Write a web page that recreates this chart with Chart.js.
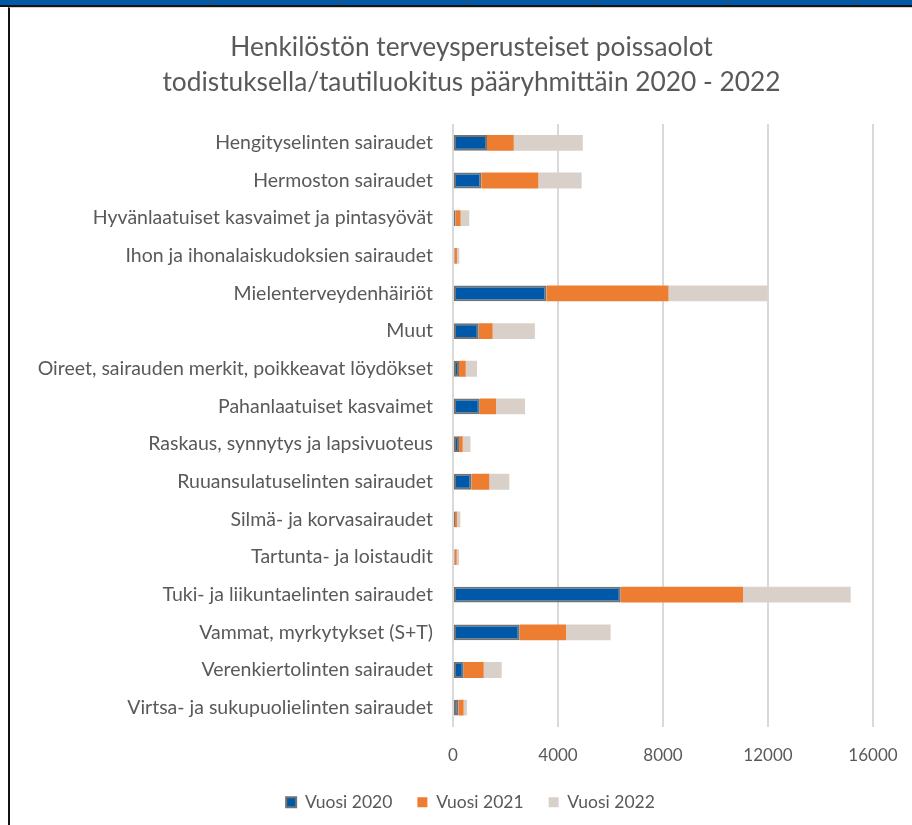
<!DOCTYPE html>
<html lang="fi">
<head>
    <meta charset="UTF-8">
    <title>Henkilöstön terveysperusteiset poissaolot</title>
    <script src="https://cdn.jsdelivr.net/npm/chart.js"></script>
    <style>
        html, body { margin: 0; padding: 0; background: #fff; width: 912px; height: 825px; overflow: hidden; }
        #band { position: absolute; left: 0; top: 0; width: 912px; height: 5px; background: #0059a8; border-bottom: 2px solid #111; }
        #band span { position: absolute; top: 0; width: 1px; height: 5px; background: #3d4a5c; }
        #frame { position: absolute; left: 8px; top: 7px; width: 904px; height: 818px; border-left: 2px solid #111; border-top: 1px solid #d0d0d0; box-sizing: border-box; }
        #myChart { position: absolute; left: 12px; top: 9px; }
    </style>
</head>
<body>
    <div id="band">
        <span style="left:212px"></span><span style="left:340px"></span><span style="left:468px"></span>
        <span style="left:596px"></span><span style="left:726px"></span><span style="left:854px"></span>
    </div>
    <div id="frame"></div>
    <canvas id="myChart" width="900" height="816"></canvas>

    <script>
        const categories = [
            'Hengityselinten sairaudet',
            'Hermoston sairaudet',
            'Hyvänlaatuiset kasvaimet ja pintasyövät',
            'Ihon ja ihonalaiskudoksien sairaudet',
            'Mielenterveydenhäiriöt',
            'Muut',
            'Oireet, sairauden merkit, poikkeavat löydökset',
            'Pahanlaatuiset kasvaimet',
            'Raskaus, synnytys ja lapsivuoteus',
            'Ruuansulatuselinten sairaudet',
            'Silmä- ja korvasairaudet',
            'Tartunta- ja loistaudit',
            'Tuki- ja liikuntaelinten sairaudet',
            'Vammat, myrkytykset (S+T)',
            'Verenkiertolinten sairaudet',
            'Virtsa- ja sukupuolielinten sairaudet'
        ];

        const vuosi2020 = [1295, 1080, 100, 60, 3560, 980, 230, 1020, 230, 710, 75, 60, 6390, 2540, 410, 205];
        const vuosi2021 = [1020, 2170, 190, 90, 4650, 530, 255, 620, 140, 675, 75, 80, 4660, 1765, 760, 200];
        const vuosi2022 = [2630, 1650, 330, 90, 3780, 1610, 430, 1105, 295, 760, 130, 90, 4100, 1700, 685, 125];

        const seriesNames = ['Vuosi 2020', 'Vuosi 2021', 'Vuosi 2022'];
        const xTicks = [0, 4000, 8000, 12000, 16000];

        const textColor = '#595959';
        const fontFamily = 'Lato, "Open Sans", sans-serif';

        // title and legend sit a bit right of the canvas centre in the original
        const shiftBoxes = {
            id: 'shiftBoxes',
            afterLayout(chart) {
                chart.titleBlock.left += 29;
                chart.titleBlock.right += 29;
                chart.legend.left += 28;
                chart.legend.right += 28;
            }
        };

        const ctx = document.getElementById('myChart').getContext('2d');
        new Chart(ctx, {
            type: 'bar',
            data: {
                labels: categories,
                datasets: [
                    {
                        label: seriesNames[0],
                        data: vuosi2020,
                        backgroundColor: '#0059a8',
                        borderColor: '#737373',
                        borderWidth: 2,
                        borderSkipped: false
                    },
                    {
                        label: seriesNames[1],
                        data: vuosi2021,
                        backgroundColor: '#ed7d31',
                        borderWidth: 0
                    },
                    {
                        label: seriesNames[2],
                        data: vuosi2022,
                        backgroundColor: '#d9d1c9',
                        borderWidth: 0
                    }
                ]
            },
            options: {
                indexAxis: 'y',
                responsive: false,
                animation: false,
                devicePixelRatio: 1,
                layout: { padding: { left: 0, right: 39, top: 0, bottom: 4 } },
                datasets: { bar: { categoryPercentage: 1, barPercentage: 0.42 } },
                scales: {
                    x: {
                        stacked: true,
                        min: 0,
                        max: 16000,
                        afterBuildTicks: (scale) => { scale.ticks = xTicks.map(v => ({ value: v })); },
                        afterFit: (scale) => {
                            scale.height = 42;
                            scale.paddingLeft = 0;
                            scale.paddingRight = 0;
                        },
                        border: { display: false },
                        grid: { color: '#d9d9d9', lineWidth: 2, drawTicks: false },
                        ticks: {
                            padding: 19,
                            color: textColor,
                            callback: (value) => String(value),
                            font: { family: fontFamily, size: 17 }
                        }
                    },
                    y: {
                        stacked: true,
                        afterFit: (scale) => { scale.width = 441; },
                        border: { display: false },
                        grid: { display: false, drawTicks: false },
                        ticks: {
                            padding: 20,
                            color: textColor,
                            autoSkip: false,
                            font: { family: fontFamily, size: 19.5 }
                        }
                    }
                },
                plugins: {
                    title: {
                        display: true,
                        text: ['Henkilöstön terveysperusteiset poissaolot', 'todistuksella/tautiluokitus pääryhmittäin 2020 - 2022'],
                        color: textColor,
                        font: { family: fontFamily, size: 26.3, weight: 'normal', lineHeight: '35px' },
                        padding: { top: 21, bottom: 24 }
                    },
                    legend: {
                        position: 'bottom',
                        labels: {
                            boxWidth: 10,
                            boxHeight: 10,
                            padding: 25,
                            color: textColor,
                            font: { family: fontFamily, size: 17.5 }
                        }
                    },
                    tooltip: { enabled: false }
                }
            },
            plugins: [shiftBoxes]
        });
    </script>
</body>
</html>
